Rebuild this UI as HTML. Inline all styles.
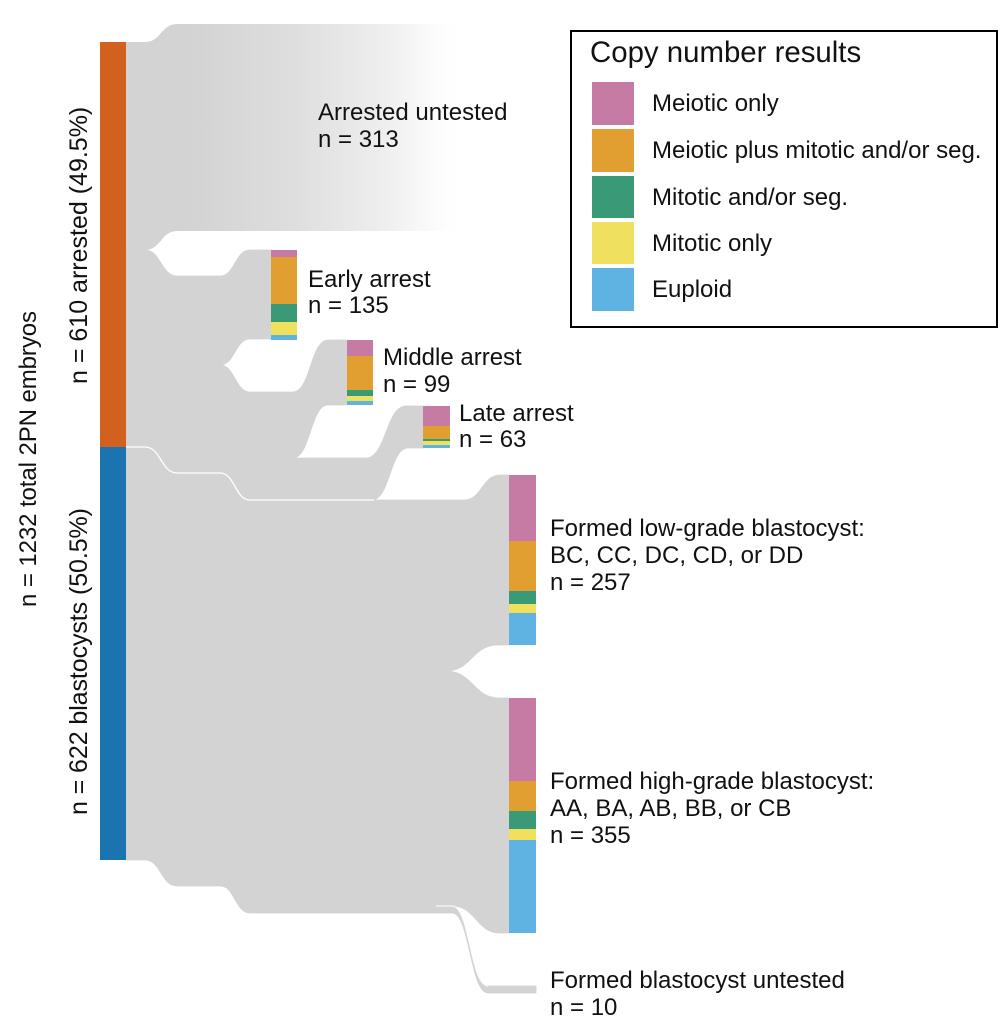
<!DOCTYPE html>
<html>
<head>
<meta charset="utf-8">
<style>
  html, body { margin: 0; padding: 0; background: #ffffff; }
  body { width: 1005px; height: 1024px; overflow: hidden; }
  svg { display: block; }
  text { font-family: "Liberation Sans", Arial, Helvetica, sans-serif; fill: #111; }
</style>
</head>
<body>
<svg width="1005" height="1024" viewBox="0 0 1005 1024" xmlns="http://www.w3.org/2000/svg">
  <defs>
    <linearGradient id="fade" gradientUnits="userSpaceOnUse" x1="126" y1="0" x2="460" y2="0">
      <stop offset="0" stop-color="#d3d3d3"/>
      <stop offset="0.19" stop-color="#d3d3d3"/>
      <stop offset="0.48" stop-color="#dddddd"/>
      <stop offset="0.77" stop-color="#eeeeee"/>
      <stop offset="0.92" stop-color="#fbfbfb"/>
      <stop offset="1" stop-color="#ffffff"/>
    </linearGradient>
  </defs>

  <!-- Flows -->
  <path d="M126,42 L145,42 C161,42 161,24 177,24 L460,24 L460,231 L177,231 C161,231 161,250 145,250 L126,250 Z" fill="url(#fade)"/>

  <g fill="#d3d3d3" stroke="#d3d3d3" stroke-width="0.8">
    <path d="M126,250 L145,250 C161,250 161,276 177,276 L220,276 C235,276 235,250 250,250 L271,250 L271,339 L250,339 C235,339 235,365 220,365 L177,365 C161,365 161,339 145,339 L126,339 Z"/>
    <path d="M126,339 L145,339 C161,339 161,365 177,365 L220,365 C235,365 235,392 250,392 L293,392 C310.5,392 310.5,340 328,340 L347,340 L347,405 L328,405 C310.5,405 310.5,458 293,458 L250,458 C235,458 235,431 220,431 L177,431 C161,431 161,405 145,405 L126,405 Z"/>
    <path d="M126,405 L145,405 C161,405 161,431 177,431 L220,431 C235,431 235,458 250,458 L366,458 C386,458 386,406 406,406 L423,406 L423,448 L408,448 C390,448 390,500 372,500 L250,500 C235,500 235,473 220,473 L177,473 C161,473 161,447 145,447 L126,447 Z"/>
    <path d="M126,447 L145,447 C161,447 161,473 177,473 L220,473 C235,473 235,500 250,500 L464,500 C482,500 482,475 500,475 L509,475 L509,645 L498,645 C472,645 472,671 446,671 L250,671 C235,671 235,644 220,644 L177,644 C161,644 161,618 145,618 L126,618 Z"/>
    <path d="M126,618 L145,618 C161,618 161,644 177,644 L220,644 C235,644 235,671 250,671 L446,671 C473,671 473,698 500,698 L509,698 L509,933 L500,933 C476,933 476,906 452,906 L250,906 C235,906 235,879 220,879 L177,879 C161,879 161,853 145,853 L126,853 Z"/>
    <path d="M126,853 L145,853 C161,853 161,879 177,879 L220,879 C235,879 235,906 250,906 L452,906 C470,906 470,986 488,986 L536,986 L536,993 L488,993 C470,993 470,913 452,913 L250,913 C235,913 235,886 220,886 L177,886 C161,886 161,860 145,860 L126,860 Z"/>
  </g>

  <!-- thin white separators -->
  <path d="M126,447 L145,447 C161,447 161,473 177,473 L220,473 C235,473 235,500 250,500 L374,500" fill="none" stroke="#ffffff" stroke-width="1.3"/>
  <path d="M436,906 L452,906 C470,906 470,986 488,986" fill="none" stroke="#ffffff" stroke-width="1"/>

  <!-- Left bar -->
  <rect x="100" y="42" width="26" height="405" fill="#d2611f"/>
  <rect x="100" y="447" width="26" height="413" fill="#1b74b0"/>

  <!-- Early arrest node -->
  <g>
    <rect x="271" y="250" width="26" height="7" fill="#c57ba3"/>
    <rect x="271" y="257" width="26" height="47" fill="#e09f30"/>
    <rect x="271" y="304" width="26" height="18" fill="#3a9977"/>
    <rect x="271" y="322" width="26" height="13" fill="#efe05e"/>
    <rect x="271" y="335" width="26" height="5" fill="#5eb3e3"/>
  </g>
  <!-- Middle arrest node -->
  <g>
    <rect x="347" y="340" width="26" height="16" fill="#c57ba3"/>
    <rect x="347" y="356" width="26" height="34" fill="#e09f30"/>
    <rect x="347" y="390" width="26" height="6" fill="#3a9977"/>
    <rect x="347" y="396" width="26" height="5" fill="#efe05e"/>
    <rect x="347" y="401" width="26" height="4" fill="#5eb3e3"/>
  </g>
  <!-- Late arrest node -->
  <g>
    <rect x="423" y="406" width="27" height="20" fill="#c57ba3"/>
    <rect x="423" y="426" width="27" height="13" fill="#e09f30"/>
    <rect x="423" y="439" width="27" height="2" fill="#3a9977"/>
    <rect x="423" y="441" width="27" height="4" fill="#efe05e"/>
    <rect x="423" y="445" width="27" height="3" fill="#5eb3e3"/>
  </g>
  <!-- Low-grade blastocyst node -->
  <g>
    <rect x="509" y="475" width="27" height="66" fill="#c57ba3"/>
    <rect x="509" y="541" width="27" height="50" fill="#e09f30"/>
    <rect x="509" y="591" width="27" height="13" fill="#3a9977"/>
    <rect x="509" y="604" width="27" height="9" fill="#efe05e"/>
    <rect x="509" y="613" width="27" height="32" fill="#5eb3e3"/>
  </g>
  <!-- High-grade blastocyst node -->
  <g>
    <rect x="509" y="698" width="27" height="83" fill="#c57ba3"/>
    <rect x="509" y="781" width="27" height="30" fill="#e09f30"/>
    <rect x="509" y="811" width="27" height="18" fill="#3a9977"/>
    <rect x="509" y="829" width="27" height="11" fill="#efe05e"/>
    <rect x="509" y="840" width="27" height="93" fill="#5eb3e3"/>
  </g>

  <!-- Node labels -->
  <g font-size="24">
    <text x="318" y="120">Arrested untested</text>
    <text x="318" y="147">n = 313</text>
    <text x="308" y="287">Early arrest</text>
    <text x="308" y="313">n = 135</text>
    <text x="383" y="365">Middle arrest</text>
    <text x="383" y="392">n = 99</text>
    <text x="459" y="421">Late arrest</text>
    <text x="459" y="447">n = 63</text>
    <text x="550" y="536">Formed low-grade blastocyst:</text>
    <text x="550" y="563">BC, CC, DC, CD, or DD</text>
    <text x="550" y="590">n = 257</text>
    <text x="550" y="789">Formed high-grade blastocyst:</text>
    <text x="550" y="816">AA, BA, AB, BB, or CB</text>
    <text x="550" y="843">n = 355</text>
    <text x="550" y="988">Formed blastocyst untested</text>
    <text x="550" y="1015">n = 10</text>
  </g>

  <!-- Rotated axis labels -->
  <text transform="translate(87,384) rotate(-90)" font-size="25">n = 610 arrested (49.5%)</text>
  <text transform="translate(87,815) rotate(-90)" font-size="25" textLength="307">n = 622 blastocysts (50.5%)</text>
  <text transform="translate(36,607) rotate(-90)" font-size="24" textLength="296">n = 1232 total 2PN embryos</text>

  <!-- Legend -->
  <rect x="571" y="31" width="426" height="296" fill="#ffffff" stroke="#000000" stroke-width="2"/>
  <text x="590" y="62" font-size="29.4">Copy number results</text>
  <rect x="592" y="82" width="42" height="43" fill="#c57ba3"/>
  <rect x="592" y="129" width="42" height="43" fill="#e09f30"/>
  <rect x="592" y="176" width="42" height="42" fill="#3a9977"/>
  <rect x="592" y="222" width="42" height="42" fill="#efe05e"/>
  <rect x="592" y="268" width="42" height="43" fill="#5eb3e3"/>
  <g font-size="24">
    <text x="652" y="111">Meiotic only</text>
    <text x="652" y="158">Meiotic plus mitotic and/or seg.</text>
    <text x="652" y="205">Mitotic and/or seg.</text>
    <text x="652" y="251">Mitotic only</text>
    <text x="652" y="297">Euploid</text>
  </g>
</svg>
</body>
</html>
